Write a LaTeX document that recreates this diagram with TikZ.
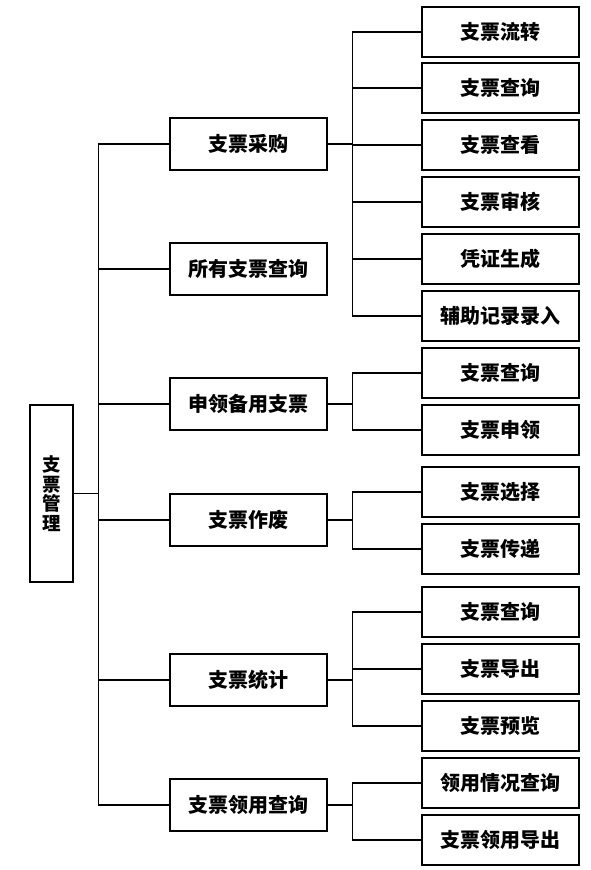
\documentclass[tikz,border=0pt]{standalone}
\usepackage{fontspec}
\newfontfamily\cjk{Noto Sans CJK SC}
\begin{document}
\begin{tikzpicture}[x=1pt,y=-1pt,
  box/.style={draw,line width=1.2pt,inner sep=0pt,
    minimum width=157pt,minimum height=52pt,
    font=\cjk\bfseries\fontsize{20}{24}\selectfont},
  leaf/.style={box,minimum width=157pt,minimum height=50pt}]
  \useasboundingbox (0,0) rectangle (590,870);
  % draw root
  \node[box,minimum width=43pt,minimum height=177pt,align=center,
        font=\cjk\bfseries\fontsize{18.5}{19.5}\selectfont]
        (root) at (51.5,493.5) {支\\票\\管\\理};
  % draw first level
  \node[box] (buy)   at (248.5,144) {支票采购};
  \node[box] (all)   at (248.5,269) {所有支票查询};
  \node[box] (apply) at (248.5,404) {申领备用支票};
  \node[box] (void)  at (248.5,520) {支票作废};
  \node[box] (stat)  at (248.5,680) {支票统计};
  \node[box] (use)   at (248.5,805) {支票领用查询};
  % draw leaves
  \node[leaf] (buy1)   at (500.5,32)  {支票流转};
  \node[leaf] (buy2)   at (500.5,88)  {支票查询};
  \node[leaf] (buy3)   at (500.5,145) {支票查看};
  \node[leaf] (buy4)   at (500.5,202) {支票审核};
  \node[leaf] (buy5)   at (500.5,259) {凭证生成};
  \node[leaf] (buy6)   at (500.5,316) {辅助记录录入};
  \node[leaf] (apply1) at (500.5,373) {支票查询};
  \node[leaf] (apply2) at (500.5,430) {支票申领};
  \node[leaf] (void1)  at (500.5,492) {支票选择};
  \node[leaf] (void2)  at (500.5,549) {支票传递};
  \node[leaf] (stat1)  at (500.5,612) {支票查询};
  \node[leaf] (stat2)  at (500.5,669) {支票导出};
  \node[leaf] (stat3)  at (500.5,726) {支票预览};
  \node[leaf] (use1)   at (500.5,783) {领用情况查询};
  \node[leaf] (use2)   at (500.5,840) {支票领用导出};
  % draw connectors
  \foreach \n in {buy,all,apply,void,stat,use}
    \draw[line width=1.2pt] (root.east) -- ++(25,0) |- (\n.west);
  \foreach \n in {buy1,buy2,buy3,buy4,buy5,buy6}
    \draw[line width=1.2pt] (buy.east) -- ++(25,0) |- (\n.west);
  \foreach \n in {apply1,apply2}
    \draw[line width=1.2pt] (apply.east) -- ++(25,0) |- (\n.west);
  \foreach \n in {void1,void2}
    \draw[line width=1.2pt] (void.east) -- ++(25,0) |- (\n.west);
  \foreach \n in {stat1,stat2,stat3}
    \draw[line width=1.2pt] (stat.east) -- ++(25,0) |- (\n.west);
  \foreach \n in {use1,use2}
    \draw[line width=1.2pt] (use.east) -- ++(25,0) |- (\n.west);
\end{tikzpicture}
\end{document}
